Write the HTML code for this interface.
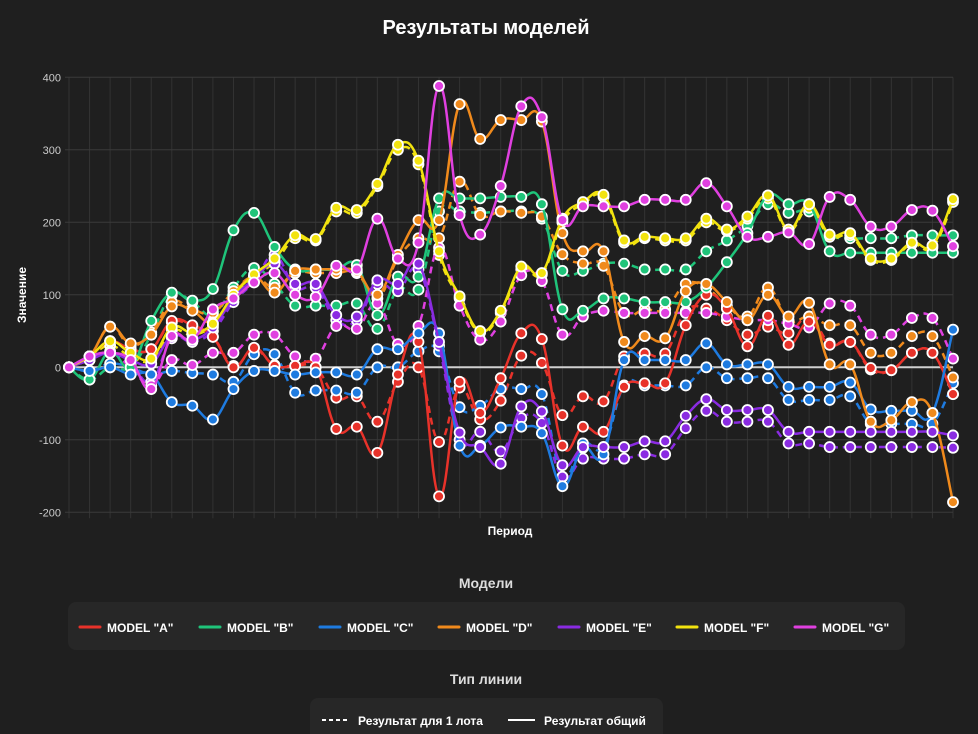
<!DOCTYPE html>
<html><head><meta charset="utf-8">
<style>
html,body{margin:0;padding:0;background:#1f1f1f;}
body{width:978px;height:734px;overflow:hidden;font-family:"Liberation Sans","Noto Sans CJK SC",sans-serif;}
svg{display:block}
</style></head>
<body>
<svg id="chart" width="978" height="734" xmlns="http://www.w3.org/2000/svg">
<rect width="978" height="734" fill="#1f1f1f"/>
<text x="486" y="34" fill="#ffffff" font-size="20" font-weight="bold" text-anchor="middle">Результаты моделей</text>
<g id="grid"></g>
<g id="yticks"></g>
<text transform="translate(26,295) rotate(-90)" fill="#ffffff" font-size="12" font-weight="bold" text-anchor="middle">Значение</text>
<text x="510" y="535" fill="#ffffff" font-size="12" font-weight="bold" text-anchor="middle">Период</text>
<g id="series"></g>
<text x="486" y="588" fill="#dddddd" font-size="14" font-weight="bold" text-anchor="middle">Модели</text>
<rect x="68" y="602" width="837" height="48" rx="8" fill="#272727"/>
<g id="legend1"></g>
<text x="486" y="684" fill="#dddddd" font-size="14" font-weight="bold" text-anchor="middle">Тип линии</text>
<rect x="310" y="698" width="353" height="48" rx="8" fill="#272727"/>
<g>
<line x1="322" y1="720" x2="347" y2="720" stroke="#ffffff" stroke-width="2" stroke-dasharray="4,3"/>
<text x="358" y="725" fill="#ffffff" font-size="12" font-weight="bold">Результат для 1 лота</text>
</g>
<g>
<line x1="508" y1="720" x2="535" y2="720" stroke="#ffffff" stroke-width="2"/>
<text x="544" y="725" fill="#ffffff" font-size="12" font-weight="bold">Результат общий</text>
</g>
</svg>
<script>
const yTicks=[400,300,200,100,0,-100,-200];
const modelNames=['MODEL "A"','MODEL "B"','MODEL "C"','MODEL "D"','MODEL "E"','MODEL "F"','MODEL "G"'];
const A_solid=[0,15,36,25,25,64,58,42,0,27,2,2,0,-85,-82,-118,-10,35,-178,-20,-63,-15,47,39,-108,-82,-89,-27,-22,-22,58,100,81,29,71,31,63,31,35,-1,-4,20,20,-37];
const A_dash=[0,15,36,25,25,62,56,42,2,25,3,2,0,-42,-40,-75,-20,0,-103,-28,-72,-46,16,6,-66,-40,-47,15,19,19,77,81,65,45,56,47,70,33,35,-3,-4,20,20,-37];
const B_solid=[0,-17,22,0,64,103,92,108,189,213,166,135,135,135,141,72,125,125,233,233,233,235,235,225,80,78,95,95,90,90,90,110,145,185,237,225,225,160,158,158,158,158,158,158];
const B_dash=[0,-17,0,0,45,100,90,72,110,137,115,85,85,85,88,53,108,107,215,215,213,215,215,205,133,133,143,143,135,135,135,160,175,195,225,213,215,183,178,178,178,182,182,182];
const C_solid=[0,-5,0,-10,-10,-48,-53,-72,-30,-5,-5,-10,-7,-7,-10,25,25,47,47,-108,-108,-83,-82,-91,-164,-111,-120,10,10,10,10,33,4,4,4,-27,-27,-27,-21,-58,-60,-60,-63,52];
const C_dash=[0,-5,5,0,-10,-5,-8,-10,-20,18,18,-35,-32,-32,-35,0,0,22,22,-55,-53,-30,-30,-37,-151,-105,-110,-25,-25,-25,-25,0,-15,-15,-15,-45,-45,-45,-40,-78,-78,-78,-78,-22];
const D_solid=[0,15,56,33,45,84,78,62,100,125,103,133,135,135,132,100,155,203,203,363,315,341,341,339,185,160,160,35,43,40,105,115,90,65,100,70,89,4,4,-75,-73,-48,-63,-186];
const D_dash=[0,15,56,30,48,90,80,75,105,125,110,130,130,130,130,95,150,178,178,256,210,215,213,208,156,143,140,75,80,80,115,110,85,70,110,65,70,58,58,20,20,43,43,-14];
const E_solid=[0,10,20,10,5,43,38,55,95,122,143,115,115,72,70,120,115,143,35,-90,-110,-133,-54,-61,-135,-110,-110,-110,-102,-102,-67,-44,-59,-59,-59,-89,-89,-89,-89,-89,-89,-89,-89,-94];
const E_dash=[0,10,20,5,-20,40,35,50,90,118,155,110,110,65,65,115,105,135,30,-100,-89,-116,-70,-77,-151,-126,-126,-126,-120,-120,-84,-60,-75,-75,-75,-105,-105,-110,-110,-110,-110,-110,-110,-111];
const F_solid=[0,15,36,20,12,55,48,60,100,128,150,182,177,220,217,253,307,285,160,98,50,78,139,130,205,228,238,175,180,178,178,205,190,208,237,190,225,183,185,150,150,172,168,232];
const F_dash=[0,15,30,15,10,50,45,58,95,125,145,178,175,215,213,250,300,280,155,95,48,75,135,128,200,225,235,172,178,175,175,200,188,205,233,188,220,180,182,148,148,170,165,228];
const G_solid=[0,15,20,10,-30,43,38,80,95,117,130,100,97,140,135,205,150,172,388,210,183,250,360,345,203,222,222,222,231,231,231,254,222,180,180,186,170,235,231,194,194,217,216,167];
const G_dash=[0,10,20,0,-25,10,3,20,20,45,45,15,12,57,53,88,32,57,165,85,38,63,127,119,45,70,78,75,75,75,75,75,70,65,65,60,55,88,85,45,45,68,68,12];

const colors=['#e8322a','#1fc47a','#1e7be0','#f08a1c','#8a2be2','#f2e30f','#e040e0'];
const solids=[A_solid,B_solid,C_solid,D_solid,E_solid,F_solid,G_solid];
const dashes=[A_dash,B_dash,C_dash,D_dash,E_dash,F_dash,G_dash];
const X0=69,X1=953,YT=77.3,YB=512.3,VMAX=400,VMIN=-200;
const N=A_solid.length;
function xs(i){return X0+(X1-X0)*i/(N-1);}
function ys(v){return YT+(VMAX-v)/(VMAX-VMIN)*(YB-YT);}
const NS='http://www.w3.org/2000/svg';
function mk(t,a,p){const e=document.createElementNS(NS,t);for(const k in a)e.setAttribute(k,a[k]);p.appendChild(e);return e;}
const grid=document.getElementById('grid');
for(let i=0;i<N;i++){
  const l=mk('line',{x1:xs(i),x2:xs(i),y1:YT,y2:YB+6,stroke:'#333333','stroke-width':1},grid);
  
  
}
const yt=document.getElementById('yticks');
yTicks.forEach(v=>{
  const l=mk('line',{x1:X0-4,x2:X1,y1:ys(v),y2:ys(v),stroke:v===0?'#d0d0d0':'#3a3a3a','stroke-width':v===0?2:1},grid);
  
  
  const t=mk('text',{x:X0-8,y:ys(v)+4,fill:'#cccccc','font-size':11,'text-anchor':'end'},yt);
  t.textContent=v;
  
  
});
function pathFor(d){
  const p=d.map((v,i)=>[xs(i),ys(v)]);const t=0.2;
  let s='M'+p[0][0]+','+p[0][1];
  for(let i=0;i<p.length-1;i++){
    const a=p[Math.max(i-1,0)],b=p[i],c=p[i+1],e=p[Math.min(i+2,p.length-1)];
    const c1=[b[0]+(c[0]-a[0])*t,b[1]+(c[1]-a[1])*t];
    const c2=[c[0]-(e[0]-b[0])*t,c[1]-(e[1]-b[1])*t];
    s+=' C'+c1[0]+','+c1[1]+' '+c2[0]+','+c2[1]+' '+c[0]+','+c[1];
  }
  return s;
}
const sg=document.getElementById('series');
function drawSeries(d,col,dashed,name){
  const g=mk('g',{},sg);
  
  
  const pa=mk('path',{d:pathFor(d),fill:'none',stroke:col,'stroke-width':2.5},g);
  if(dashed)pa.setAttribute('stroke-dasharray','7,5');
  
  
  d.forEach((v,i)=>{
    const c=mk('circle',{cx:xs(i),cy:ys(v),r:5,fill:col,stroke:'#ffffff','stroke-width':1.8},g);
    
    
  });
}
const letters='ABCDEFG';
for(let k=0;k<7;k++){drawSeries(dashes[k],colors[k],true,'model-'+letters[k].toLowerCase()+'-lot-series');}
for(let k=0;k<7;k++){drawSeries(solids[k],colors[k],false,'model-'+letters[k].toLowerCase()+'-total-series');}
const lg=document.getElementById('legend1');
const lx=[80,200,320,439,559,677,795];
modelNames.forEach((n,k)=>{
  const g=mk('g',{},lg);
  
  
  mk('line',{x1:lx[k],x2:lx[k]+20,y1:627,y2:627,stroke:colors[k],'stroke-width':3,'stroke-linecap':'round'},g);
  const t=mk('text',{x:lx[k]+27,y:632,fill:'#ffffff','font-size':12,'font-weight':'bold'},g);
  t.textContent=n;
});
</script>
</body></html>
